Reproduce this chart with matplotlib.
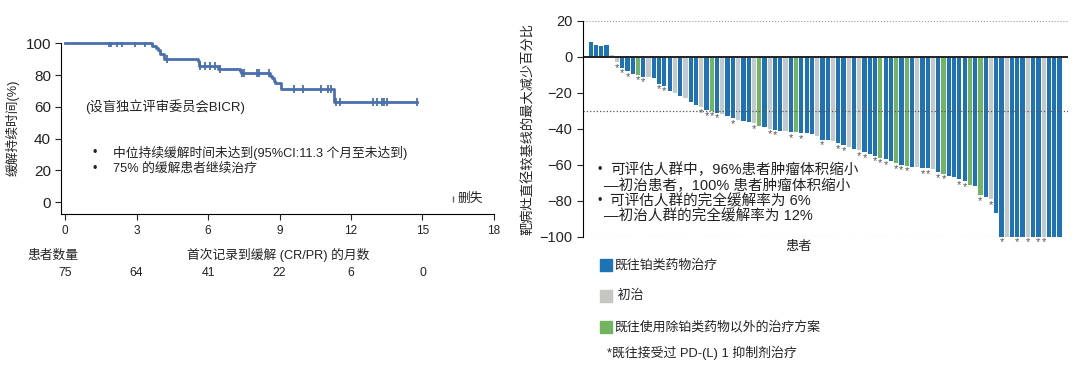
import numpy as np
import matplotlib
matplotlib.use("Agg")
import matplotlib.pyplot as plt
from matplotlib.patches import Rectangle

plt.rcParams['font.family'] = ['Liberation Sans', 'Noto Sans CJK SC', 'DejaVu Sans']
plt.rcParams['axes.unicode_minus'] = True

# ---- data: KM curve (duration of response) ----
km_t = [0, 3.65, 3.8, 3.9, 4.0, 4.15, 5.58, 5.62, 6.43, 7.33, 7.38, 8.6, 8.68, 8.75, 8.8, 9.05, 11.3]
km_s = [100, 98.6, 97.2, 95.8, 93.0, 90.2, 88.6, 85.8, 83.6, 82.4, 81.3, 79.5, 78.0, 76.5, 74.8, 71.2, 63.2]
km_end = 14.78
censor_t = [1.85, 1.95, 2.2, 2.4, 2.95, 3.36, 4.27, 5.67, 5.88, 6.09, 6.3, 6.5, 7.42, 7.5,
            8.05, 8.16, 8.55, 9.6, 9.99, 10.74, 11.05, 11.15, 11.39, 11.55, 12.93, 13.1,
            13.3, 13.38, 13.5, 14.78]
risk_months = [0, 3, 6, 9, 12, 15]
risk_n = [75, 64, 41, 22, 6, 0]

# ---- data: waterfall (best % change from baseline) ----
wf_vals = [8, 6.5, 6, 6.5, 1, -3, -6, -8, -9.5, -10, -11, -11, -12, -15, -16, -19, -20, -22,
           -23, -25, -27, -28, -29.5, -30, -31, -32, -33, -34, -35, -35.5, -36, -37, -38.5,
           -39, -40, -40.5, -41, -41.5, -42, -42, -42.5, -42.5, -43, -44, -46, -46.5, -47,
           -48, -49, -50, -51, -52, -53, -54, -55, -56, -57, -58, -59, -60, -60.5, -61,
           -61.5, -62, -62, -62.5, -64, -65, -66, -67, -68, -69, -71, -72, -77, -78, -79,
           -87, -100, -100, -100, -100, -100, -100, -100, -100, -100, -100, -100, -100]
# b = prior platinum, g = treatment naive, n = prior non-platinum
wf_cat = ("bbbbggbbbnbgbbbbgbgbbgbnbgbbgbbgnbgbbgbnbbbgbbgbbgbgbbbnbbnbnbgbbgbnbbbbnbnbg"
          "bbgbbbgbbgbb")
wf_star = [5, 6, 7, 9, 10, 13, 14, 21, 22, 23, 24, 27, 31, 34, 35, 38, 40, 44, 47, 48,
           51, 52, 54, 55, 56, 58, 59, 60, 63, 64, 66, 67, 70, 71, 74, 76, 78, 81, 83, 85, 86]

legend_labels = ['既往铂类药物治疗', ' 初治', '既往使用除铂类药物以外的治疗方案']
footnote = '*既往接受过 PD-(L) 1 抑制剂治疗'

cmap = {'b': '#1d72b8', 'g': '#c4c9ce', 'n': '#72b55e'}
txt = '#222222'
km_col = '#4a6fae'

fig = plt.figure(figsize=(10.8, 3.71), dpi=100)

# ================= KM plot =================
ax = fig.add_axes([0.0569, 0.4224, 0.4005, 0.4652])
x = list(km_t) + [km_end]
y = list(km_s) + [km_s[-1]]
ax.step(x, y, where='post', color=km_col, lw=2)
cs = [km_s[np.searchsorted(km_t, c, side='right') - 1] for c in censor_t]
ax.plot(censor_t, cs, ls='none', marker='|', ms=6, mew=1.3, color=km_col)
ax.set_xlim(-0.15, 18)
ax.set_ylim(-7.7, 101)
ax.set_xticks(range(0, 19, 3))
ax.set_yticks(range(0, 101, 20))
ax.spines['top'].set_visible(False)
ax.spines['right'].set_visible(False)
ax.spines['left'].set_bounds(-7.7, 100)
ax.tick_params(axis='y', labelsize=11, colors=txt, length=4)
ax.tick_params(axis='x', labelsize=8.5, colors=txt, length=4)
ax.set_ylabel('缓解持续时间(%)', fontsize=9.2, color=txt, labelpad=4)
ax.set_xlabel('首次记录到缓解 (CR/PR) 的月数', fontsize=9.2, color=txt, labelpad=8)
ax.text(0.85, 60, '(设盲独立评审委员会BICR)', fontsize=9.5, color=txt, va='center')
ax.text(1.15, 31, '•', fontsize=9, color=txt, va='center')
ax.text(2.0, 31, '中位持续缓解时间未达到(95%CI:11.3 个月至未达到)', fontsize=9.2, color=txt, va='center')
ax.text(1.15, 21, '•', fontsize=9, color=txt, va='center')
ax.text(2.0, 21, '75% 的缓解患者继续治疗', fontsize=9.2, color=txt, va='center')
ax.plot([16.3], [2], ls='none', marker='|', ms=5, mew=1, color='#666666')
ax.text(16.45, 2, '删失', fontsize=9.2, color=txt, va='center')

fig.text(27 / 1080, 1 - 256 / 371, '患者数量', fontsize=9.2, color=txt, va='center')
for m, n in zip(risk_months, risk_n):
    ax.annotate(str(n), xy=(m, 0), xycoords=('data', 'axes fraction'),
                xytext=(0, -42.5), textcoords='offset points',
                ha='center', va='center', fontsize=8.8, color=txt)

# ================= Waterfall =================
ax2 = fig.add_axes([0.5398, 0.362, 0.449, 0.582])
idx = np.arange(len(wf_vals))
ax2.bar(idx, wf_vals, width=0.8, color=[cmap[c] for c in wf_cat], linewidth=0)
for i in wf_star:
    ax2.text(i, wf_vals[i] - 3.2, '*', ha='center', va='center', fontsize=8,
             color='#555555', clip_on=False)
ax2.axhline(0, color='#222222', lw=1.4)
ax2.axhline(20, color='#999999', lw=0.8, ls=':')
ax2.axhline(-30, color='#555555', lw=0.9, ls=':')
ax2.axhline(-100, color='#999999', lw=0.8, ls=':')
ax2.set_xlim(-1.45, 90.6)
ax2.set_ylim(-100, 20)
ax2.set_yticks(range(-100, 21, 20))
ax2.set_xticks([])
for s in ['top', 'right', 'bottom']:
    ax2.spines[s].set_visible(False)
ax2.tick_params(axis='y', labelsize=10.5, colors=txt, length=4)
ax2.set_ylabel('靶病灶直径较基线的最大减少百分比', fontsize=9.5, color=txt, labelpad=4)
ax2.text(0.445, -0.05, '患者', transform=ax2.transAxes, fontsize=9.5, color=txt,
         ha='center', va='center')
lines = [(597, 610, 170, '可评估人群中，96%患者肿瘤体积缩小'),
         (None, 604, 186, '—初治患者，100% 患者肿瘤体积缩小'),
         (597, 610, 201, '可评估人群的完全缓解率为 6%'),
         (None, 604, 216, '—初治人群的完全缓解率为 12%')]
for bx, tx, ty, s in lines:
    if bx is not None:
        fig.text(bx / 1080, 1 - ty / 371, '•', fontsize=9, color=txt, va='center')
    fig.text(tx / 1080, 1 - ty / 371, s, fontsize=10.5, color=txt, va='center')

# legend
for k, (c, lab, ly) in enumerate(zip(['b', 'g', 'n'], legend_labels, [265, 296, 327])):
    fig.add_artist(Rectangle((600 / 1080, 1 - (ly + 6) / 371), 12 / 1080, 12 / 371,
                             transform=fig.transFigure, color=cmap[c] if c != 'g' else '#c8c6c2'))
    fig.text(614 / 1080, 1 - ly / 371, lab, fontsize=9.3, color=txt, va='center')
fig.text(607 / 1080, 1 - 353 / 371, footnote, fontsize=9.3, color=txt, va='center')

fig.savefig('out.png', dpi=100)
